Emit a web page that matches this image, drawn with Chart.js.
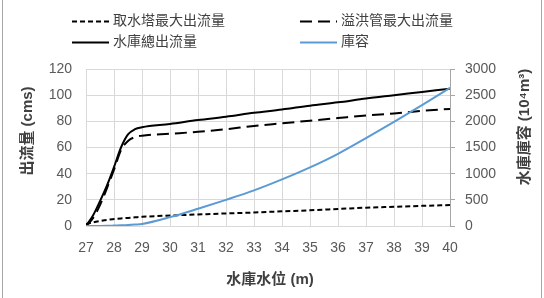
<!DOCTYPE html>
<html><head><meta charset="utf-8">
<script src="https://cdn.jsdelivr.net/npm/chart.js@4"></script>
<style>html,body{margin:0;padding:0;background:#fff}#wrap{position:relative;width:544px;height:298px}</style>
</head><body><div id="wrap"><canvas id="c" width="544" height="298"></canvas></div>
<script>
// Water level (m)
const levels   = [27, 27.25, 27.5, 27.75, 28, 28.25, 28.5, 28.75, 29, 30, 31, 32, 33, 34, 35, 36, 37, 38, 39, 40];
// 取水塔最大出流量 (cms)
const towerMax = [1.5, 2.8, 3.8, 4.7, 5.3, 5.8, 6.2, 6.6, 7, 8, 8.8, 9.6, 10.3, 11.2, 12, 13, 14, 14.7, 15.4, 16];
// 溢洪管最大出流量 (cms)
const spillMax = [0, 6, 16, 29, 43, 58, 65, 68, 69, 70.5, 72, 74, 76.5, 78.5, 80.5, 82.5, 84.5, 86, 88, 89.5];
// 水庫總出流量 (cms)
const totalOut = [0, 8, 19, 31, 45, 60, 70, 74, 75.5, 78, 81, 83.5, 86.5, 89, 92, 94.5, 97.5, 100, 102.5, 105];
// 庫容 (10^4 m^3)
const storage  = [0, 1, 2, 4, 8, 12, 18, 28, 40, 170, 330, 500, 680, 890, 1120, 1380, 1680, 1990, 2310, 2640];

const seriesLabels = ['取水塔最大出流量', '溢洪管最大出流量', '水庫總出流量', '庫容'];
const xTitle = '水庫水位 (m)';
const yLeftTitle = '出流量 (cms)';
const yRightTitle = '水庫庫容 (10⁴m³)';

const FONT = '"Liberation Sans", "Noto Sans CJK TC", sans-serif';
const pts = arr => levels.map((x, i) => ({x, y: arr[i]}));

const styles = [
  {color: '#000000', dash: [5, 3]},
  {color: '#000000', dash: [12, 6]},
  {color: '#000000', dash: []},
  {color: '#5B9BD5', dash: []}
];

const decor = {
  id: 'decor',
  afterDraw(chart) {
    const ctx = chart.ctx;
    ctx.save();
    ctx.strokeStyle = '#a6a6a6'; ctx.lineWidth = 1; ctx.setLineDash([]);
    ctx.beginPath(); ctx.moveTo(2.5, 0); ctx.lineTo(2.5, 298); ctx.moveTo(541.5, 0); ctx.lineTo(541.5, 298); ctx.stroke();
    const pos = [[72, 21], [300, 21], [72, 42], [300, 42]];
    ctx.font = '14px ' + FONT; ctx.textBaseline = 'middle'; ctx.textAlign = 'left';
    [0, 1, 2, 3].forEach((k, i) => {
      const [x, y] = pos[i];
      ctx.strokeStyle = styles[k].color; ctx.lineWidth = 2; ctx.setLineDash(styles[k].dash);
      ctx.beginPath(); ctx.moveTo(x, y + 0.5); ctx.lineTo(x + 37, y + 0.5); ctx.stroke();
      ctx.setLineDash([]);
      ctx.fillStyle = '#404040';
      ctx.fillText(seriesLabels[k], x + 41, y);
    });
    ctx.fillStyle = '#404040';
    ctx.font = 'bold 15px ' + FONT; ctx.textAlign = 'center'; ctx.textBaseline = 'middle';
    ctx.fillText(xTitle, 270, 280);
    ctx.save(); ctx.translate(28, 131); ctx.rotate(-Math.PI / 2); ctx.fillText(yLeftTitle, 0, 0); ctx.restore();
    ctx.save(); ctx.translate(525, 127); ctx.rotate(-Math.PI / 2); ctx.fillText(yRightTitle, 0, 0); ctx.restore();
    ctx.restore();
  }
};

const mk = (k, data, axis) => ({
  label: seriesLabels[k], data: pts(data), yAxisID: axis,
  borderColor: styles[k].color, borderDash: styles[k].dash, borderWidth: 2,
  pointRadius: 0, fill: false, cubicInterpolationMode: 'monotone'
});

const plain = v => String(v);

new Chart(document.getElementById('c'), {
  type: 'line',
  data: {
    datasets: [
      mk(3, storage, 'y1'),
      mk(0, towerMax, 'y'),
      mk(1, spillMax, 'y'),
      mk(2, totalOut, 'y')
    ]
  },
  options: {
    responsive: false, animation: false,
    layout: {padding: {top: 69, left: 0, right: 0, bottom: 0}},
    plugins: {legend: {display: false}, tooltip: {enabled: false}},
    scales: {
      x: {
        type: 'linear', min: 27, max: 40,
        ticks: {stepSize: 1, color: '#595959', font: {size: 14, family: FONT}, padding: 14, maxRotation: 0, callback: plain},
        grid: {color: '#d9d9d9', drawTicks: false},
        border: {color: '#d9d9d9'},
        afterFit(s) { s.height = 72; }
      },
      y: {
        position: 'left', min: 0, max: 120,
        ticks: {stepSize: 20, color: '#595959', font: {size: 14, family: FONT}, padding: 14, callback: plain},
        grid: {color: '#d9d9d9', drawTicks: false},
        border: {display: false},
        afterFit(s) { s.width = 86; }
      },
      y1: {
        position: 'right', min: 0, max: 3000,
        ticks: {stepSize: 500, color: '#595959', font: {size: 14, family: FONT}, padding: 10, callback: plain},
        grid: {drawOnChartArea: false, drawTicks: true, tickLength: 5, color: '#a6a6a6'},
        border: {color: '#a6a6a6'},
        afterFit(s) { s.width = 94; }
      }
    }
  },
  plugins: [decor]
});
</script>
</body></html>
